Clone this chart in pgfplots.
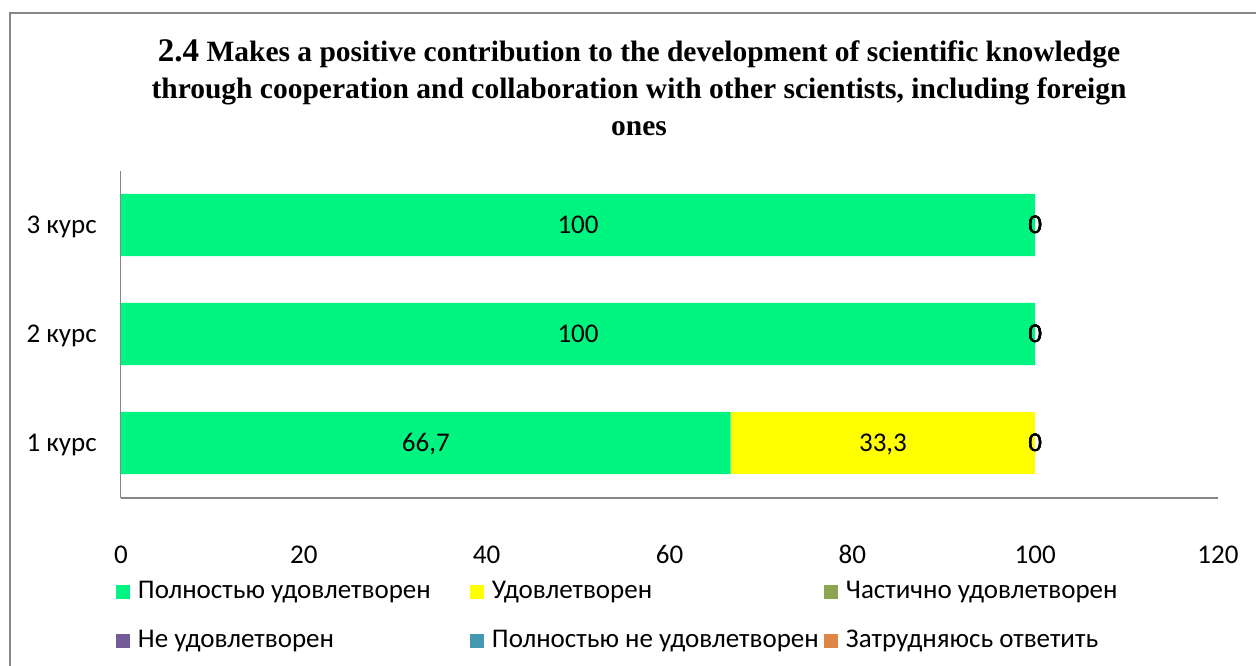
\documentclass[border=0pt]{standalone}
\usepackage{pgfplots}
\pgfplotsset{compat=1.18}
\usepackage{pgfplotstable}
\usepackage{fontspec}
\setmainfont{Carlito}
\newfontfamily\titlefont{Liberation Serif}

\definecolor{cFull}{RGB}{0,245,128}
\definecolor{cSat}{RGB}{255,255,0}
\definecolor{cPart}{RGB}{140,165,80}
\definecolor{cNot}{RGB}{115,91,152}
\definecolor{cNotFull}{RGB}{68,153,176}
\definecolor{cHard}{RGB}{222,134,68}
\definecolor{axgray}{RGB}{134,134,134}

\pgfplotstableread{
y full sat part nots notfull hard
0 66.7 33.3 0 0 0 0
1 100 0 0 0 0 0
2 100 0 0 0 0 0
}\data

\newcommand{\lbl}{\fontsize{27}{31}\selectfont}

\begin{document}
\begin{tikzpicture}[x=1pt,y=1pt]
\useasboundingbox (0,0) rectangle (1256,-666);
\draw[axgray, line width=2pt] (10,-700) -- (10,-13) -- (1300,-13);
\begin{scope}[every node/.style={font=\titlefont\bfseries\fontsize{29.5}{36}\selectfont, anchor=base, inner sep=0pt}]
\node at (639,-62) {{\fontsize{33}{36}\selectfont 2.4} Makes a positive contribution to the development of scientific knowledge};
\node at (639,-99) {through cooperation and collaboration with other scientists, including foreign};
\node at (639,-136) {ones};
\end{scope}

\begin{axis}[
  at={(121pt,-497.5pt)}, anchor=south west,
  scale only axis, width=1097pt, height=327pt,
  xmin=0, xmax=120, ymin=-0.5, ymax=2.5,
  xbar stacked, bar width=0.57,
  axis lines*=left,
  x axis line style={axgray, line width=2pt},
  y axis line style={axgray, line width=1pt},
  xtick={0,20,...,120}, ytick={0,1,2},
  yticklabels={1 курс,2 курс,3 курс},
  major tick length=0pt,
  tick label style={font=\lbl},
  xticklabel style={anchor=base, yshift=-66pt, inner sep=0pt},
  yticklabel style={anchor=base east, inner sep=0pt, xshift=-24pt, yshift=-8.5pt},
  /pgf/number format/assume math mode=true,
  legend columns=3,
  legend style={draw=none, fill=none, inner sep=0pt, outer sep=0pt,
    at={(axis description cs:-0.00456,-0.255)}, anchor=north west,
    row sep=25pt, column sep=0pt, font=\lbl,
    nodes={inner sep=0pt, text height=18pt, text depth=6pt},
    /tikz/every odd column/.append style={column sep=8pt}},
  legend image code/.code={\fill[#1] (0pt,-6.5pt) rectangle (14pt,7.5pt);},
]
\addplot[fill=cFull, draw=none] table[x=full, y=y] \data;
\addlegendentry{\makebox[332pt][l]{Полностью удовлетворен}}
\addplot[fill=cSat, draw=none] table[x=sat, y=y] \data;
\addlegendentry{\makebox[332pt][l]{Удовлетворен}}
\addplot[fill=cPart, draw=none] table[x=part, y=y] \data;
\addlegendentry{\makebox[300pt][l]{Частично удовлетворен}}
\addplot[fill=cNot, draw=none] table[x=nots, y=y] \data;
\addlegendentry{\makebox[332pt][l]{Не удовлетворен}}
\addplot[fill=cNotFull, draw=none] table[x=notfull, y=y] \data;
\addlegendentry{\makebox[332pt][l]{Полностью не удовлетворен}}
\addplot[fill=cHard, draw=none] table[x=hard, y=y] \data;
\addlegendentry{\makebox[300pt][l]{Затрудняюсь ответить}}
\end{axis}

\begin{axis}[
  at={(121pt,-497.5pt)}, anchor=south west,
  scale only axis, width=1097pt, height=327pt,
  xmin=0, xmax=120, ymin=-0.5, ymax=2.5,
  hide axis,
  point meta=explicit,
  nodes near coords,
  every node near coord/.append style={anchor=base, yshift=-8.5pt, font=\lbl, inner sep=0pt},
  /pgf/number format/.cd, use comma, assume math mode=true,
]
\addplot[draw=none, mark=none] table[x expr=\thisrow{full}/2, y=y, meta=full] \data;
\addplot[draw=none, mark=none] table[x expr=\thisrow{full}+\thisrow{sat}/2, y=y, meta=sat] \data;
\addplot[draw=none, mark=none] table[x expr=\thisrow{full}+\thisrow{sat}+\thisrow{part}/2, y=y, meta=part] \data;
\addplot[draw=none, mark=none] table[x expr=\thisrow{full}+\thisrow{sat}+\thisrow{part}+\thisrow{nots}/2, y=y, meta=nots] \data;
\addplot[draw=none, mark=none] table[x expr=\thisrow{full}+\thisrow{sat}+\thisrow{part}+\thisrow{nots}+\thisrow{notfull}/2, y=y, meta=notfull] \data;
\addplot[draw=none, mark=none] table[x expr=\thisrow{full}+\thisrow{sat}+\thisrow{part}+\thisrow{nots}+\thisrow{notfull}+\thisrow{hard}/2, y=y, meta=hard] \data;
\end{axis}
\end{tikzpicture}
\end{document}
